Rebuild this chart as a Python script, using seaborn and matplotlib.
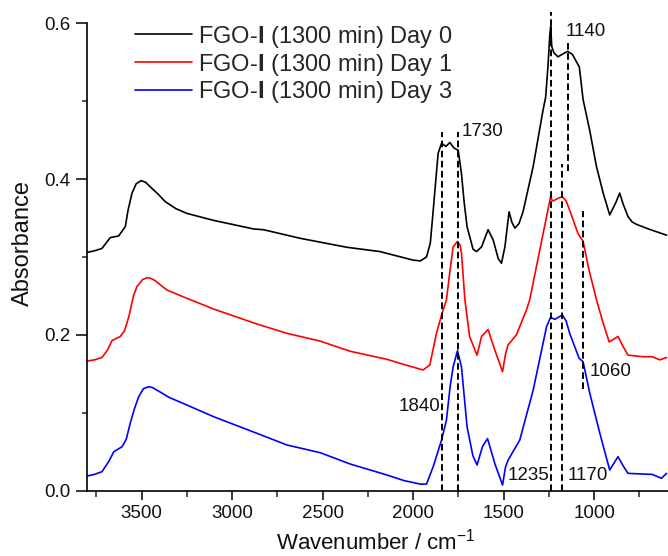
import matplotlib
matplotlib.use("Agg")
import matplotlib.pyplot as plt
import seaborn as sns
import pandas as pd
from matplotlib.ticker import MultipleLocator

# FTIR spectra (wavenumber in cm-1, absorbance)
wn_day0 = [3800, 3760, 3719, 3673, 3627, 3590, 3575, 3553, 3530, 3503, 3478, 3452, 3410,
           3369, 3310, 3250,
           3102, 2881, 2826, 2624, 2366, 2184, 2100, 2000, 1960, 1926, 1905, 1889,
           1862, 1843, 1819, 1797, 1775, 1751, 1733, 1718, 1702, 1669, 1650, 1622,
           1586, 1558, 1530, 1512, 1493, 1470, 1455, 1438, 1415, 1393, 1337, 1282,
           1268, 1255, 1245, 1240, 1234, 1222, 1200, 1170, 1146, 1120, 1082, 1061, 1024,
           987, 950, 914, 880, 859, 840, 813, 790, 767, 700, 600]
abs_day0 = [0.306, 0.308, 0.311, 0.325, 0.327, 0.339, 0.360, 0.382, 0.394, 0.398, 0.396, 0.390, 0.381,
            0.371, 0.362, 0.356,
            0.347, 0.336, 0.335, 0.324, 0.3125, 0.307, 0.302, 0.296, 0.295, 0.300, 0.318, 0.360,
            0.433, 0.446, 0.442, 0.447, 0.440, 0.437, 0.407, 0.370, 0.339, 0.310, 0.307, 0.313,
            0.335, 0.322, 0.298, 0.292, 0.313, 0.358, 0.345, 0.337, 0.343, 0.358, 0.416, 0.489,
            0.505, 0.545, 0.585, 0.596, 0.570, 0.562, 0.557, 0.561, 0.564, 0.560, 0.544, 0.502, 0.462,
            0.416, 0.382, 0.354, 0.370, 0.382, 0.368, 0.352, 0.345, 0.342, 0.336, 0.328]

wn_day1 = [3800, 3760, 3719, 3690, 3664, 3618, 3595, 3571, 3545, 3526, 3495, 3470, 3447,
           3425, 3395, 3360, 3250, 3102, 2863, 2697, 2513, 2348, 2145, 2050, 1945, 1908,
           1871, 1843, 1816, 1795, 1779, 1755, 1740, 1733, 1714, 1688, 1647, 1622,
           1586, 1549, 1506, 1490, 1476, 1430, 1374, 1356, 1282, 1241, 1230, 1218,
           1195, 1175, 1155, 1135, 1089, 1061, 1030, 987, 950, 917, 868, 840,
           813, 730, 680, 638, 600]
abs_day1 = [0.1665, 0.168, 0.171, 0.180, 0.1926, 0.198, 0.205, 0.223, 0.250, 0.262, 0.271, 0.2735, 0.2725,
            0.2696, 0.264, 0.2576, 0.247, 0.2332, 0.214, 0.202, 0.192, 0.179, 0.1687, 0.162, 0.155, 0.1614,
            0.202, 0.2255, 0.245, 0.285, 0.313, 0.320, 0.315, 0.305, 0.245, 0.198, 0.174, 0.198,
            0.207, 0.1806, 0.1528, 0.175, 0.187, 0.200, 0.232, 0.245, 0.330, 0.377, 0.372, 0.373,
            0.376, 0.377, 0.372, 0.360, 0.330, 0.320, 0.285, 0.245, 0.215, 0.191, 0.198, 0.185,
            0.174, 0.172, 0.172, 0.168, 0.171]

wn_day3 = [3800, 3760, 3719, 3680, 3654, 3608, 3585, 3563, 3540, 3516, 3490, 3461, 3440,
           3415, 3385, 3350, 3250, 3102, 2863, 2697, 2513, 2348, 2145, 2050, 1960, 1926,
           1889, 1843, 1816, 1795, 1779, 1755, 1733, 1702, 1670, 1647, 1617, 1589,
           1549, 1506, 1490, 1476, 1411, 1337, 1263, 1241, 1218, 1195, 1175, 1155,
           1135, 1083, 1061, 1024, 970, 914, 868, 840, 813, 730, 680, 628, 600]
abs_day3 = [0.0189, 0.021, 0.0244, 0.038, 0.050, 0.0565, 0.066, 0.0865, 0.105, 0.1207, 0.131, 0.1335, 0.1325,
            0.129, 0.125, 0.120, 0.110, 0.095, 0.0737, 0.0587, 0.0488, 0.0343, 0.0202, 0.013, 0.0085, 0.0086,
            0.031, 0.065, 0.0907, 0.135, 0.159, 0.1797, 0.159, 0.082, 0.045, 0.033, 0.0565, 0.067,
            0.035, 0.0073, 0.030, 0.039, 0.065, 0.129, 0.2105, 0.2225, 0.220, 0.223, 0.2255, 0.218,
            0.202, 0.170, 0.1656, 0.125, 0.075, 0.0266, 0.0437, 0.032, 0.0223, 0.0214, 0.021, 0.016, 0.0223]

series_labels = [r'FGO-$\mathbf{I}$ (1300 min) Day 0',
                 r'FGO-$\mathbf{I}$ (1300 min) Day 1',
                 r'FGO-$\mathbf{I}$ (1300 min) Day 3']
series_colors = ['black', '#ff0000', '#0000ff']

# marker lines: position, bottom, top
mark_pos = [1843, 1750, 1240, 1146, 1175, 1063]
mark_lo = [0.0, 0.0, 0.0, 0.410, 0.0, 0.130]
mark_hi = [0.461, 0.461, 0.614, 0.576, 0.420, 0.359]

# peak labels: text, x, y, alignment
peak_text = ['1730', '1140', '1840', '1235', '1170', '1060']
peak_x = [1733, 1160, 1852, 1245, 1144, 1024]
peak_y = [0.4605, 0.590, 0.1087, 0.0195, 0.0195, 0.1528]
peak_ha = ['left', 'left', 'right', 'right', 'left', 'left']

sns.set_theme(style='ticks')
plt.rcParams['font.family'] = ['Liberation Sans', 'DejaVu Sans']
plt.rcParams['mathtext.fontset'] = 'custom'
plt.rcParams['mathtext.rm'] = 'Liberation Sans'
plt.rcParams['mathtext.it'] = 'Liberation Sans:italic'
plt.rcParams['mathtext.bf'] = 'Liberation Sans:bold'

fig = plt.figure(figsize=(6.68, 5.56), dpi=100)
ax = fig.add_axes([0.1307, 0.1174, 0.8693, 0.8407])

for wn, ab, lab, col in zip([wn_day0, wn_day1, wn_day3], [abs_day0, abs_day1, abs_day3],
                            series_labels, series_colors):
    df = pd.DataFrame({'wn': wn, 'abs': ab})
    sns.lineplot(data=df, x='wn', y='abs', color=col, lw=1.2, sort=False,
                 estimator=None, label=lab, ax=ax)

for xp, lo, hi in zip(mark_pos, mark_lo, mark_hi):
    ax.plot([xp, xp], [lo, hi], color='black', lw=1.4, ls=(0, (3.4, 1.8)),
            clip_on=False, zorder=3)

for t, xp, yp, ha in zip(peak_text, peak_x, peak_y, peak_ha):
    ax.text(xp, yp, t, ha=ha, va='center', fontsize=13.5, color='#111111')

ax.set_xlim(3800, 592)
ax.set_ylim(0, 0.6)
ax.xaxis.set_major_locator(MultipleLocator(500))
ax.xaxis.set_minor_locator(MultipleLocator(250))
ax.yaxis.set_major_locator(MultipleLocator(0.2))
ax.yaxis.set_minor_locator(MultipleLocator(0.1))
ax.yaxis.set_major_formatter(matplotlib.ticker.FormatStrFormatter('%.1f'))

for s in ['top', 'right']:
    ax.spines[s].set_visible(False)
for s in ['left', 'bottom']:
    ax.spines[s].set_linewidth(1.2)
    ax.spines[s].set_color('black')

ax.tick_params(axis='x', which='major', length=6.2, width=1.1, pad=4.3,
               labelsize=13.5, colors='black', labelcolor='#111111')
ax.tick_params(axis='x', which='minor', length=4.3, width=1.1)
ax.tick_params(axis='y', which='major', length=7.7, width=1.1, pad=4.2,
               labelsize=13.5, colors='black', labelcolor='#111111')
ax.tick_params(axis='y', which='minor', length=3.6, width=1.1)
ax.set_xlabel('')
ax.set_ylabel('')
ax.grid(False)

fig.text(22.5 / 668, 1 - 243.3 / 556, 'Absorbance', rotation=90, ha='center',
         va='center', fontsize=17, color='#111111')
fig.text(375.8 / 668, (556 - 549.5) / 556, r'Wavenumber / cm$^{-1}$', ha='center',
         va='baseline', fontsize=16, color='#111111')

ax.legend(loc='upper left', bbox_to_anchor=(135 / 668, 1 - 23.7 / 556),
          bbox_transform=fig.transFigure, frameon=False, borderpad=0,
          borderaxespad=0, handlelength=2.4, handletextpad=0.28,
          labelspacing=0.08, fontsize=17)

plt.savefig('out.png', dpi=100)
